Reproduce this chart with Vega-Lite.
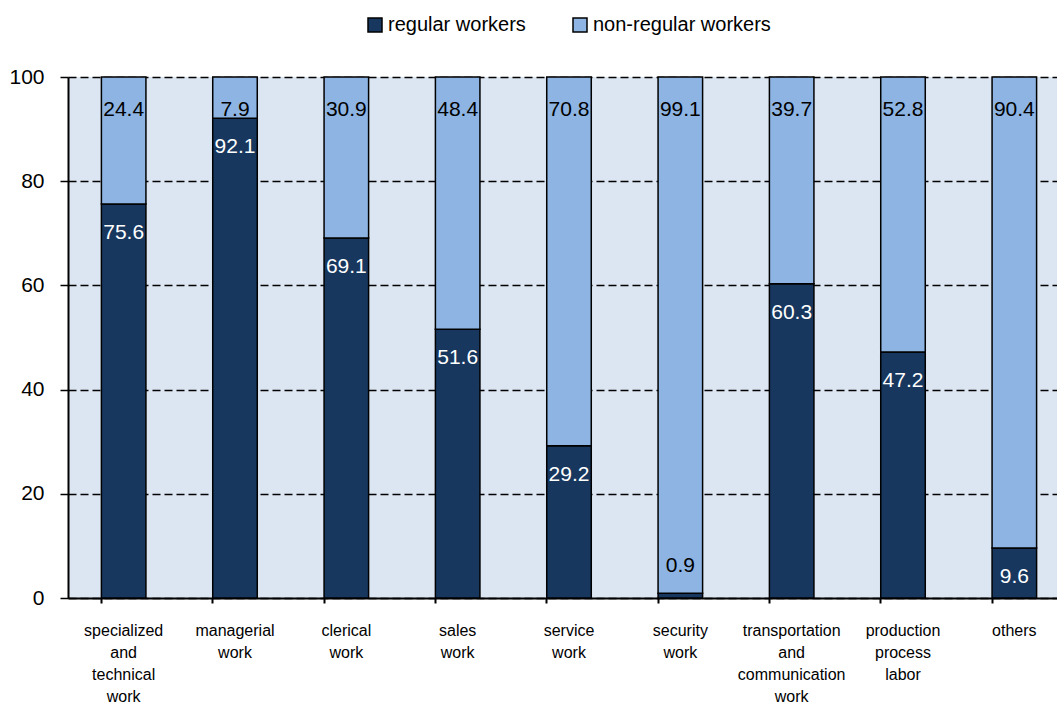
{
  "$schema": "https://vega.github.io/schema/vega-lite/v6.json",
  "autosize": {"type": "none"},
  "padding": {"left": 68, "top": 77, "right": 0, "bottom": 104},
  "width": 989,
  "height": 521,
  "background": "white",
  "config": {
    "view": {"fill": "#dce6f2", "stroke": null},
    "font": "Liberation Sans"
  },
  "data": {
    "values": [
      {"cat": "specialized|and|technical|work", "type": "regular workers", "order": 1, "value": 75.6},
      {"cat": "specialized|and|technical|work", "type": "non-regular workers", "order": 2, "value": 24.4},
      {"cat": "managerial|work", "type": "regular workers", "order": 1, "value": 92.1},
      {"cat": "managerial|work", "type": "non-regular workers", "order": 2, "value": 7.9},
      {"cat": "clerical|work", "type": "regular workers", "order": 1, "value": 69.1},
      {"cat": "clerical|work", "type": "non-regular workers", "order": 2, "value": 30.9},
      {"cat": "sales|work", "type": "regular workers", "order": 1, "value": 51.6},
      {"cat": "sales|work", "type": "non-regular workers", "order": 2, "value": 48.4},
      {"cat": "service|work", "type": "regular workers", "order": 1, "value": 29.2},
      {"cat": "service|work", "type": "non-regular workers", "order": 2, "value": 70.8},
      {"cat": "security|work", "type": "regular workers", "order": 1, "value": 0.9},
      {"cat": "security|work", "type": "non-regular workers", "order": 2, "value": 99.1},
      {"cat": "transportation|and|communication|work", "type": "regular workers", "order": 1, "value": 60.3},
      {"cat": "transportation|and|communication|work", "type": "non-regular workers", "order": 2, "value": 39.7},
      {"cat": "production|process|labor", "type": "regular workers", "order": 1, "value": 47.2},
      {"cat": "production|process|labor", "type": "non-regular workers", "order": 2, "value": 52.8},
      {"cat": "others", "type": "regular workers", "order": 1, "value": 9.6},
      {"cat": "others", "type": "non-regular workers", "order": 2, "value": 90.4}
    ]
  },
  "transform": [
    {"stack": "value", "groupby": ["cat"], "sort": [{"field": "order", "order": "ascending"}], "as": ["y0", "y1"]}
  ],
  "encoding": {
    "x": {
      "field": "cat", "type": "nominal", "sort": null,
      "scale": {"range": [0, 1002], "paddingInner": 0.6, "paddingOuter": 0.3},
      "axis": {
        "title": null, "labelAngle": 0, "labelExpr": "split(datum.label, '|')",
        "labelFontSize": 16, "labelLineHeight": 22, "labelColor": "black",
        "labelBaseline": "top", "labelPadding": 19,
        "domainColor": "black", "domainWidth": 2,
        "tickColor": "black", "tickWidth": 2, "tickSize": 5, "bandPosition": 0,
        "grid": false
      }
    }
  },
  "layer": [
    {
      "mark": {"type": "bar", "stroke": "black", "strokeWidth": 1.5},
      "encoding": {
        "y": {
          "field": "y0", "type": "quantitative",
          "scale": {"domain": [0, 100], "nice": false},
          "axis": {
            "title": null, "values": [0, 20, 40, 60, 80, 100],
            "labelFontSize": 21, "labelColor": "black", "labelPadding": 16,
            "domainColor": "black", "domainWidth": 2,
            "tickColor": "black", "tickWidth": 1.5, "tickSize": 8,
            "grid": true, "gridColor": "black", "gridDash": [8, 4], "gridWidth": 1.5
          }
        },
        "y2": {"field": "y1"},
        "color": {
          "field": "type", "type": "nominal",
          "scale": {"domain": ["regular workers", "non-regular workers"], "range": ["#17375e", "#8db4e2"]},
          "legend": {
            "title": null, "orient": "none", "direction": "horizontal",
            "legendX": 297, "legendY": -62, "padding": 0,
            "symbolType": "square", "symbolSize": 196,
            "symbolStrokeColor": "black", "symbolStrokeWidth": 1.5,
            "labelFontSize": 20, "labelColor": "black", "labelOffset": 3,
            "labelLimit": 0, "columnPadding": 44
          }
        }
      }
    },
    {
      "transform": [{"filter": "datum.type == 'non-regular workers'"}],
      "mark": {"type": "text", "fontSize": 21, "color": "black", "baseline": "middle", "dy": 33},
      "encoding": {
        "y": {"field": "y1", "type": "quantitative"},
        "text": {"field": "value", "type": "quantitative", "format": ".1f"}
      }
    },
    {
      "transform": [{"filter": "datum.type == 'regular workers' && datum.value >= 5"}],
      "mark": {"type": "text", "fontSize": 21, "color": "white", "baseline": "middle", "dy": 29},
      "encoding": {
        "y": {"field": "y1", "type": "quantitative"},
        "text": {"field": "value", "type": "quantitative", "format": ".1f"}
      }
    },
    {
      "transform": [{"filter": "datum.type == 'regular workers' && datum.value < 5"}],
      "mark": {"type": "text", "fontSize": 21, "color": "black", "baseline": "middle", "dy": -27},
      "encoding": {
        "y": {"field": "y1", "type": "quantitative"},
        "text": {"field": "value", "type": "quantitative", "format": ".1f"}
      }
    }
  ]
}
